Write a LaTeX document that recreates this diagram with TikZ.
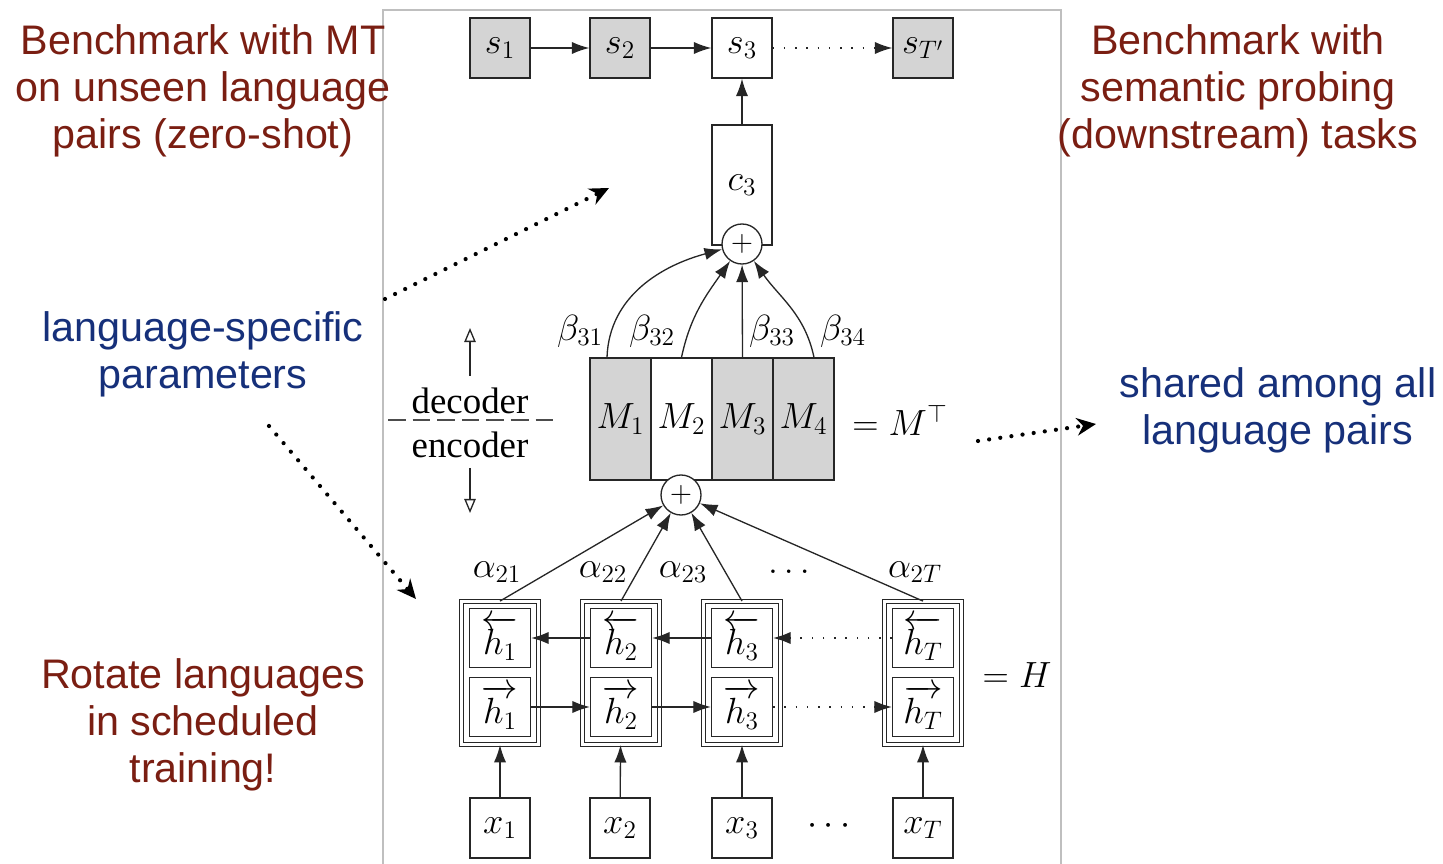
\documentclass[tikz,border=0pt]{standalone}
\usepackage{amsmath}
\usepackage{amssymb}
\usepackage{fontspec}
\setmainfont{Liberation Serif}
\newfontfamily\slidefont{Liberation Sans}
\usetikzlibrary{shapes,arrows.meta,positioning}
\definecolor{slidered}{RGB}{122,30,18}
\definecolor{slideblue}{RGB}{22,48,122}
\definecolor{cellgray}{RGB}{212,212,212}
\newcommand{\diagsize}{\fontsize{22}{26}\selectfont}
\newcommand{\notesize}{\fontsize{23.5}{26.6}\selectfont}
\tikzstyle{arrow} = [draw, -{Latex[length=10pt,width=7pt]}]
\tikzstyle{openarrow} = [draw, -{Triangle[open,length=8pt,width=6.5pt]}]
\tikzstyle{faint} = [dash pattern=on 0.9pt off 5.5pt]
\tikzstyle{hint} = [draw, black, line width=2.4pt, line cap=round, dash pattern=on 0pt off 6.4pt, -{Stealth[length=11pt,width=10pt]}]
\tikzstyle{cell} = [rectangle, draw, inner sep=0pt, minimum width=1.2cm, minimum height=1.2cm, font=\diagsize]
\tikzstyle{hcell} = [cell, minimum width=1.22cm, minimum height=1.18cm]
\tikzstyle{hcol} = [rectangle, draw, double, double distance=1.6pt, line width=0.5pt, minimum width=1.54cm, minimum height=2.86cm]
\tikzstyle{note} = [align=center, font=\slidefont\notesize]

\begin{document}
\begin{tikzpicture}[x=0.02cm, y=-0.02cm, line width=0.75pt, draw=black!85]
        \useasboundingbox (0,0) rectangle (1443,864);
        
        % frame of the figure
        \draw[black!25, line width=0.6pt] (383,864) -- (383,10) -- (1061,10) -- (1061,864);
        
        % decoder states
        \node (s1) [cell, fill=cellgray] at (500,48) {$s_1$};
        \node (s2) [cell, fill=cellgray] at (620,48) {$s_2$};
        \node (s3) [cell] at (742,48) {$s_3$};
        \node (sT) [cell, fill=cellgray] at (923,48) {$s_{T'}$};
        
        \draw[arrow] (s1) -- (s2);
        \draw[arrow] (s2) -- (s3);
        \draw[arrow, faint] (s3) -- (sT);
        
        \node (c3) [cell, minimum height=2.4cm] at (742,185) {$c_3$};
        \draw[arrow] (c3) -- (s3);
        \node (sumtop) [circle, draw, fill=white, minimum size=0.8cm, inner sep=0pt, font=\fontsize{19}{22}\selectfont] at (742,244) {$+$};
        
        % attention matrix
        \node (M1) [cell, fill=cellgray, minimum width=1.22cm, minimum height=2.44cm] at (620.5,419) {$M_1$};
        \node (M2) [cell, minimum width=1.22cm, minimum height=2.44cm] at (681.5,419) {$M_2$};
        \node (M3) [cell, fill=cellgray, minimum width=1.22cm, minimum height=2.44cm] at (742.5,419) {$M_3$};
        \node (M4) [cell, fill=cellgray, minimum width=1.22cm, minimum height=2.44cm] at (803.5,419) {$M_4$};
        \node (MT) [font=\diagsize] at (900,420) {$= M^{\top}$};
        
        \draw[arrow] ([xshift=-0.27cm]M1.north) to[out=88, in=195] (sumtop);
        \draw[arrow] (M2.north) to[out=78, in=235] (sumtop);
        \draw[arrow] (M3.north) -- (sumtop);
        \draw[arrow] ([xshift=0.21cm]M4.north) to[out=102, in=-55] (sumtop);
        
        \node (b31) [font=\diagsize] at (580,331) {$\beta_{31}$};
        \node (b32) [font=\diagsize] at (652,331) {$\beta_{32}$};
        \node (b33) [font=\diagsize] at (772,331) {$\beta_{33}$};
        \node (b34) [font=\diagsize] at (843,331) {$\beta_{34}$};
        
        \node (sumbot) [circle, draw, fill=white, minimum size=0.8cm, inner sep=0pt, font=\fontsize{19}{22}\selectfont] at (681,495) {$+$};
        
        % decoder / encoder split
        \node (dec) [font=\fontsize{21}{25}\selectfont] at (470,401) {decoder};
        \node (enc) [font=\fontsize{21}{25}\selectfont] at (470,445) {encoder};
        \coordinate (splitl) at (388,420);
        \coordinate (splitr) at (556,420);
        \draw[black!70, dash pattern=on 10pt off 4pt] (splitl) -- (splitr);
        \coordinate (upfrom) at (470,376);
        \coordinate (upto) at (470,328);
        \coordinate (downfrom) at (470,468);
        \coordinate (downto) at (470,513);
        \draw[openarrow] (upfrom) -- (upto);
        \draw[openarrow] (downfrom) -- (downto);
        
        % encoder annotations
        \node (h1) [hcol] at (500,673) {};
        \node (h2) [hcol] at (621,673) {};
        \node (h3) [hcol] at (742,673) {};
        \node (hT) [hcol] at (923,673) {};
        
        \node (hb1) [hcell] at (500,638) {$\overleftarrow{h_1}$};
        \node (hf1) [hcell] at (500,707) {$\overrightarrow{h_1}$};
        \node (hb2) [hcell] at (621,638) {$\overleftarrow{h_2}$};
        \node (hf2) [hcell] at (621,707) {$\overrightarrow{h_2}$};
        \node (hb3) [hcell] at (742,638) {$\overleftarrow{h_3}$};
        \node (hf3) [hcell] at (742,707) {$\overrightarrow{h_3}$};
        \node (hbT) [hcell] at (923,638) {$\overleftarrow{h_T}$};
        \node (hfT) [hcell] at (923,707) {$\overrightarrow{h_T}$};
        \node (H) [font=\diagsize] at (1017,675) {$= H$};
        
        \draw[arrow] (hb2) -- (hb1);
        \draw[arrow] (hb3) -- (hb2);
        \draw[arrow, faint] (hbT) -- (hb3);
        \draw[arrow] (hf1) -- (hf2);
        \draw[arrow] (hf2) -- (hf3);
        \draw[arrow, faint] (hf3) -- (hfT);
        
        \draw[arrow] (h1.north) -- (sumbot);
        \draw[arrow] (h2.north) -- (sumbot);
        \draw[arrow] (h3.north) -- (sumbot);
        \draw[arrow] (hT.north) -- (sumbot);
        
        \node (a21) [font=\diagsize] at (497,572) {$\alpha_{21}$};
        \node (a22) [font=\diagsize] at (603,572) {$\alpha_{22}$};
        \node (a23) [font=\diagsize] at (683,572) {$\alpha_{23}$};
        \node (adots) [font=\diagsize] at (792,572) {$\dots$};
        \node (a2T) [font=\diagsize] at (915,572) {$\alpha_{2T}$};
        
        % inputs
        \node (x1) [cell] at (500,828) {$x_1$};
        \node (x2) [cell] at (620,828) {$x_2$};
        \node (x3) [cell] at (742,828) {$x_3$};
        \node (xdots) [font=\diagsize] at (832,826) {$\cdots$};
        \node (xT) [cell] at (923,828) {$x_T$};
        
        \draw[arrow] (x1) -- (h1);
        \draw[arrow] (x2) -- (h2);
        \draw[arrow] (x3) -- (h3);
        \draw[arrow] (xT) -- (hT);
        
        % slide notes
        \node (bench) [note, text=slidered] at (203,91) {Benchmark with MT\\on unseen language\\pairs (zero-shot)};
        \node (probe) [note, text=slidered] at (1238,91) {Benchmark with\\semantic probing\\(downstream) tasks};
        \node (specific) [note, text=slideblue] at (203,354) {language-specific\\parameters};
        \node (shared) [note, text=slideblue] at (1278,410) {shared among all\\language pairs};
        \node (rotate) [note, text=slidered] at (203,725) {Rotate languages\\in scheduled\\training!};
        
        \coordinate (hintAs) at (385,299);
        \coordinate (hintAe) at (609,188);
        \coordinate (hintBs) at (269,426);
        \coordinate (hintBe) at (416,599);
        \coordinate (hintCs) at (978,441);
        \coordinate (hintCe) at (1096,424);
        \draw[hint] (hintAs) -- (hintAe);
        \draw[hint] (hintBs) -- (hintBe);
        \draw[hint] (hintCs) -- (hintCe);
        
    \end{tikzpicture}
\end{document}
